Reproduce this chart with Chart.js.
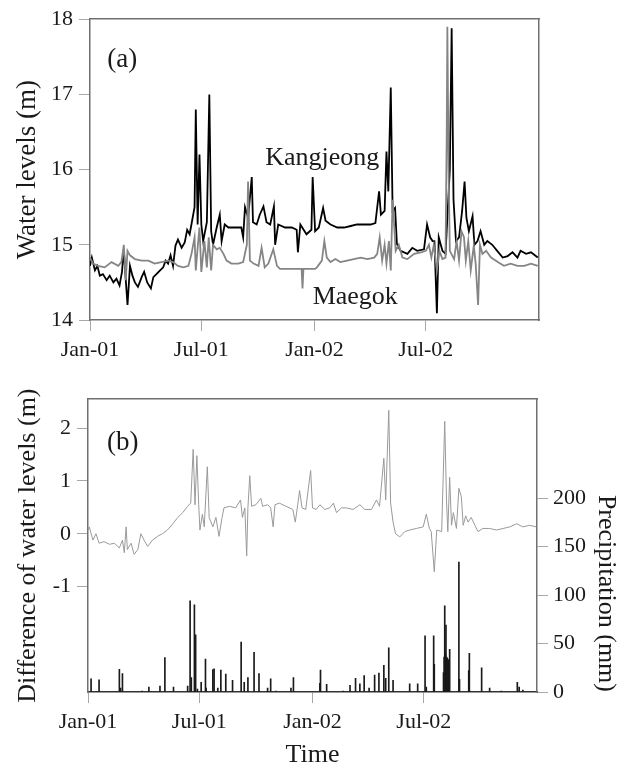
<!DOCTYPE html>
<html>
<head>
<meta charset="utf-8">
<script src="https://cdn.jsdelivr.net/npm/chart.js@4/dist/chart.umd.min.js"></script>
<style>
  body { margin: 0; background: #fff; }
  #wrapA { position: absolute; left: 0; top: 0; width: 629px; height: 380px; }
  #wrapB { position: absolute; left: 0; top: 380px; width: 629px; height: 389px; }
</style>
</head>
<body>
<div id="wrapA"><canvas id="levelsChart" width="629" height="380"></canvas></div>
<div id="wrapB"><canvas id="diffChart" width="629" height="389"></canvas></div>
<script>
// x values are days since 1 Jan 2001
const tickDays = [0, 181, 365, 546];
const tickLabels = ["Jan-01", "Jul-01", "Jan-02", "Jul-02"];

// (a) Kangjeong water level (m)
const kangDays = [0, 3, 8, 12, 16, 21, 27, 32, 38, 43, 48, 52, 55, 58, 61, 65, 69, 73, 78, 84,
  88, 93, 99, 103, 108, 114, 119, 123, 127, 131, 135, 139, 143, 149, 154, 158, 162, 166, 170, 172,
  175, 178, 181, 184, 190, 194, 197, 200, 206, 211, 214, 219,
  225, 236, 246, 249, 252, 257, 263, 265, 271, 276, 282, 287, 293, 299, 301, 306, 317, 328, 336, 338,
  342, 352, 360, 362, 366, 372, 379, 383, 391, 402, 413, 424, 434, 445, 456, 464, 470, 473, 479, 482,
  485, 489, 492, 496, 499, 505, 516, 524, 532, 543, 548, 553, 557, 560, 564, 567, 573, 578, 585, 588,
  591, 595, 600, 605, 609, 612, 616, 622, 625, 630, 635, 641, 646, 654, 662, 671, 679, 687, 695, 700,
  709, 717, 728];
const kangLevels = [14.72, 14.83, 14.66, 14.72, 14.59, 14.61, 14.53, 14.59, 14.5, 14.55, 14.46, 14.64, 14.94, 14.55, 14.2, 14.72, 14.59, 14.5, 14.44, 14.57,
  14.64, 14.5, 14.42, 14.57, 14.61, 14.66, 14.7, 14.79, 14.75, 14.86, 14.72, 14.99, 15.07, 14.96, 15.03, 15.2, 15.14, 15.32, 15.5, 16.8,
  15.27, 16.2, 15.27, 15.05, 15.3, 17.0, 15.18, 15.0, 15.23, 15.4, 15.05, 15.27,
  15.23, 15.23, 15.23, 15.1, 15.5, 15.36, 15.9, 15.3, 15.27, 15.4, 15.51, 15.3, 15.27, 15.51, 15.0, 15.27, 15.23, 15.23, 15.2, 14.9,
  15.27, 15.14, 15.2, 15.9, 15.18, 15.23, 15.49, 15.32, 15.27, 15.23, 15.23, 15.25, 15.27, 15.27, 15.27, 15.29, 15.71, 15.4, 15.45, 16.24,
  15.71, 17.09, 15.45, 15.49, 15.01, 14.92, 14.88, 14.96, 14.92, 14.94, 15.27, 15.1, 15.05, 15.05, 14.09, 15.1, 14.92, 14.88, 16.0, 17.88,
  15.6, 15.05, 15.1, 15.45, 15.84, 15.36, 15.18, 15.38, 15.0, 15.05, 15.18, 15.0, 15.05, 15.0, 14.92, 14.83, 14.85, 14.9, 14.83, 14.92,
  14.88, 14.9, 14.83];

// (a) Maegok water level (m)
const maegDays = [0, 5, 13, 24, 35, 46, 51, 55, 58, 61, 65, 73, 84, 95, 105, 116, 127, 135, 143, 152,
  160, 165, 170, 172, 175, 178, 181, 186, 190, 193, 197, 200, 206, 211, 217, 222, 230, 241, 249, 255,
  257, 260, 266, 274, 279, 284, 290, 298, 304, 309, 323, 334, 344, 345.5, 347, 366, 369, 377, 381, 385,
  391, 399, 407, 418, 429, 440, 451, 462, 467, 471, 475, 479, 482, 486, 489, 492, 497, 502, 508, 516,
  527, 538, 546, 551, 555, 559, 564, 568, 573, 578, 580, 581, 583, 585, 592, 596, 600, 604, 608, 611,
  615, 619, 624, 627, 631, 634, 638, 644, 652, 663, 673, 684, 695, 706, 717, 728];
const maegLevels = [14.83, 14.75, 14.72, 14.7, 14.77, 14.72, 14.77, 15.0, 14.53, 14.92, 14.86, 14.81, 14.79, 14.79, 14.75, 14.77, 14.79, 14.77, 14.72, 14.7,
  14.72, 14.88, 15.1, 14.66, 14.96, 15.23, 14.64, 15.05, 14.7, 15.1, 14.66, 15.0, 14.94, 14.96, 14.88, 14.79, 14.75, 14.75, 14.77, 15.0,
  15.84, 14.79, 14.75, 14.72, 14.96, 14.7, 14.75, 14.94, 14.72, 14.68, 14.68, 14.68, 14.68, 14.42, 14.68, 14.68, 14.7, 14.79, 15.05, 14.83,
  14.77, 14.81, 14.77, 14.79, 14.81, 14.83, 14.81, 14.83, 14.88, 15.1, 14.79, 15.0, 14.75, 15.05, 14.66, 15.6, 14.92, 15.0, 14.83, 14.81,
  14.88, 14.9, 14.92, 15.0, 14.83, 15.0, 14.66, 14.92, 14.81, 14.83, 16.5, 17.9, 16.0, 14.92, 14.81, 15.05, 14.79, 15.18, 15.1, 14.79,
  15.05, 14.66, 14.99, 14.75, 14.2, 15.0, 14.88, 14.92, 14.83, 14.77, 14.72, 14.75, 14.72, 14.72, 14.75, 14.72];

// (b) difference of water levels (m)
const diffDays = [0, 2, 8, 13, 18, 26, 35, 43, 51, 56, 59, 62, 64, 70, 75, 81, 86, 91, 97, 105,
  113, 121, 129, 138, 146, 154, 162, 167, 171, 174, 177, 180, 182, 186, 189, 194, 197, 203, 208, 213,
  218, 221, 230, 240, 248, 251, 255, 258, 260, 263, 266, 273, 281, 284, 292, 297, 301, 304, 311, 322,
  333, 337, 341, 344, 348, 354, 362, 365, 371, 377, 385, 393, 399, 404, 412, 420, 431, 442, 450, 461,
  469, 474, 481, 484, 489, 492, 496, 500, 507, 515, 523, 534, 545, 550, 555, 558, 563, 567, 575, 580,
  583, 585, 588, 591, 594, 599, 603, 607, 610, 614, 618, 623, 629, 634, 642, 653, 664, 675, 686, 697,
  707, 718, 729];
const diffValues = [0.07, 0.13, -0.12, 0.0, -0.18, -0.15, -0.2, -0.18, -0.27, -0.12, -0.36, 0.13, -0.3, -0.18, -0.39, -0.3, 0.0, -0.12, -0.24, -0.12,
  -0.05, 0.0, 0.07, 0.19, 0.31, 0.4, 0.52, 0.58, 1.6, 0.55, 1.48, 0.55, 0.07, 0.37, 0.13, 1.27, 0.31, 0.13, 0.31, -0.05,
  0.31, 0.49, 0.52, 0.49, 0.64, 0.31, 0.49, -0.42, 0.49, 1.1, 0.52, 0.55, 0.67, 0.52, 0.55, 0.49, 0.13, 0.55, 0.58, 0.52,
  0.46, 0.22, 0.55, 0.82, 0.49, 0.46, 1.2, 0.49, 0.46, 0.55, 0.46, 0.49, 0.58, 0.4, 0.49, 0.49, 0.46, 0.55, 0.46, 0.46,
  0.64, 0.52, 1.43, 0.64, 2.34, 0.58, 0.22, 0.0, -0.06, 0.04, 0.07, 0.1, 0.13, 0.37, 0.1, 0.04, -0.72, 0.07, 0.04, 2.13,
  0.58, 0.04, 1.07, 0.16, 0.4, 0.1, 0.86, 0.7, 0.16, 0.34, 0.22, 0.31, 0.16, 0.04, 0.1, 0.1, 0.07, 0.1, 0.13, 0.19,
  0.13, 0.16, 0.13];

// (b) daily precipitation (mm)
const rainDays = [5, 18, 51, 53, 56, 88, 99, 117, 125, 139, 162, 166, 168, 173, 175, 178, 184, 191, 192, 203,
  205, 211, 216, 224, 235, 249, 254, 260, 270, 278, 292, 297, 306, 330, 334, 377, 378, 388, 415, 426,
  435, 442, 449, 457, 466, 473, 481, 484, 489, 496, 523, 536, 548, 550, 562, 563, 578, 579, 580, 581,
  582, 583, 584, 585, 586, 587, 588, 603, 604, 619, 620, 640, 653, 672, 698, 701, 707];
const rainMm = [13.5, 12.5, 23.5, 4, 19, 1, 5, 6, 35.6, 5, 6, 94, 15, 90, 59, 3, 10, 34, 4, 23,
  24, 4, 22.5, 18.5, 12, 51.5, 10, 15, 41, 19, 4, 13.5, 1, 4, 15, 9, 22.5, 8, 1, 7,
  14, 8.5, 17, 4, 17.5, 19.5, 27.5, 14, 45.5, 12, 8.5, 8.5, 58, 5, 58, 28.5, 20, 36, 89, 40,
  69, 36, 35, 34, 33, 30, 44, 134, 13, 22, 40, 25, 4, 1, 10, 5, 2];

const levelTicks = [14, 15, 16, 17, 18];
const diffTicks = [-1, 0, 1, 2];
const rainTicks = [0, 50, 100, 150, 200];

const serif = "'Liberation Serif', 'Times New Roman', serif";
const textColor = "#1a1a1a";
const frameColor = "#707070";
const tickColor = "#a8a8a8";

const toPoints = (xs, ys) => xs.map((x, i) => ({ x: x, y: ys[i] }));
const fixWidth = (w) => (scale) => { scale.width = w; };
const fixHeight = (h) => (scale) => { scale.height = h; };
const setTicks = (values) => (scale) => { scale.ticks = values.map((v) => ({ value: v })); };

const timeAxis = (height, title, borderColor) => ({
  type: "linear",
  min: 0,
  max: 730,
  offset: false,
  afterBuildTicks: setTicks(tickDays),
  afterFit: fixHeight(height),
  ticks: {
    autoSkip: false,
    maxRotation: 0,
    padding: 6,
    color: textColor,
    font: { family: serif, size: 22 },
    callback: (value, index) => tickLabels[index],
  },
  grid: { offset: false, drawOnChartArea: false, tickLength: 11, color: tickColor, lineWidth: 1 },
  border: { color: borderColor, width: 1.5 },
  title: title
    ? { display: true, text: title, color: textColor, font: { family: serif, size: 26, lineHeight: 1 }, padding: { top: 0, bottom: 1 } }
    : { display: false },
});

const frameAxis = (position, horizontal) => ({
  type: "linear",
  position: position,
  display: true,
  afterFit: horizontal ? fixHeight(0) : fixWidth(0),
  ticks: { display: false },
  grid: { display: false },
  border: { color: frameColor, width: 1.5 },
});

// text labels placed in data coordinates
const labelPlugin = (labels, yId) => ({
  id: "panelLabels",
  afterDatasetsDraw(chart) {
    const { ctx, scales } = chart;
    ctx.save();
    ctx.fillStyle = textColor;
    ctx.textAlign = "left";
    ctx.textBaseline = "alphabetic";
    labels.forEach((l) => {
      ctx.font = l.size + "px " + serif;
      ctx.fillText(l.text, scales.x.getPixelForValue(l.x), scales[yId].getPixelForValue(l.y));
    });
    ctx.restore();
  },
});

new Chart(document.getElementById("levelsChart"), {
  type: "line",
  data: {
    datasets: [
      {
        label: "Maegok",
        data: toPoints(maegDays, maegLevels),
        borderColor: "#858585",
        borderWidth: 1.8,
        pointRadius: 0,
        tension: 0,
      },
      {
        label: "Kangjeong",
        data: toPoints(kangDays, kangLevels),
        borderColor: "#000000",
        borderWidth: 1.8,
        pointRadius: 0,
        tension: 0,
      },
    ],
  },
  options: {
    responsive: false,
    animation: false,
    layout: { padding: { top: 16, right: 90, left: 0, bottom: 0 } },
    plugins: { legend: { display: false }, tooltip: { enabled: false } },
    scales: {
      x: timeAxis(60, null, frameColor),
      y: {
        type: "linear",
        min: 14,
        max: 18,
        afterBuildTicks: setTicks(levelTicks),
        afterFit: fixWidth(90),
        ticks: { padding: 6, color: textColor, font: { family: serif, size: 22 } },
        grid: { drawOnChartArea: false, tickLength: 11, color: tickColor, lineWidth: 1 },
        border: { color: frameColor, width: 1.5 },
        title: { display: true, text: "Water levels (m)", color: textColor, font: { family: serif, size: 27, lineHeight: 1 }, padding: { top: 14, bottom: 0 } },
      },
      xTop: frameAxis("top", true),
      yRight: frameAxis("right", false),
    },
  },
  plugins: [labelPlugin([
    { text: "(a)", x: 28, y: 17.36, size: 27 },
    { text: "Kangjeong", x: 285, y: 16.06, size: 26 },
    { text: "Maegok", x: 362, y: 14.21, size: 26 },
  ], "y")],
});

new Chart(document.getElementById("diffChart"), {
  type: "line",
  data: {
    datasets: [
      {
        label: "Difference",
        data: toPoints(diffDays, diffValues),
        yAxisID: "y",
        borderColor: "#9a9a9a",
        borderWidth: 1,
        pointRadius: 0,
        tension: 0,
      },
      {
        type: "bar",
        label: "Precipitation",
        data: toPoints(rainDays, rainMm),
        yAxisID: "y2",
        backgroundColor: "#1a1a1a",
        borderWidth: 0,
        barThickness: 1,
      },
    ],
  },
  options: {
    responsive: false,
    animation: false,
    layout: { padding: { top: 7, right: 0, left: 0, bottom: 0 } },
    plugins: { legend: { display: false }, tooltip: { enabled: false } },
    scales: {
      x: timeAxis(77, "Time", "#333333"),
      y: {
        type: "linear",
        position: "left",
        min: -3,
        max: 2.55,
        afterBuildTicks: setTicks(diffTicks),
        afterFit: fixWidth(88),
        ticks: { padding: 6, color: textColor, font: { family: serif, size: 22 } },
        grid: { drawOnChartArea: false, tickLength: 11, color: tickColor, lineWidth: 1 },
        border: { color: frameColor, width: 1.5 },
        title: { display: true, text: "Difference of water levels (m)", color: textColor, font: { family: serif, size: 26, lineHeight: 1 }, padding: { top: 15, bottom: 0 } },
      },
      y2: {
        type: "linear",
        position: "right",
        min: 0,
        max: 302,
        afterBuildTicks: setTicks(rainTicks),
        afterFit: fixWidth(92),
        ticks: { padding: 5, color: textColor, font: { family: serif, size: 22 } },
        grid: { drawOnChartArea: false, tickLength: 11, color: tickColor, lineWidth: 1 },
        border: { color: frameColor, width: 1.5 },
        title: { display: true, text: "Precipitation (mm)", align: "start", color: textColor, font: { family: serif, size: 26, lineHeight: 1 }, padding: { top: 10, bottom: 0 } },
      },
      xTop: frameAxis("top", true),
    },
  },
  plugins: [labelPlugin([{ text: "(b)", x: 31, y: 1.58, size: 27 }], "y")],
});
</script>
</body>
</html>
